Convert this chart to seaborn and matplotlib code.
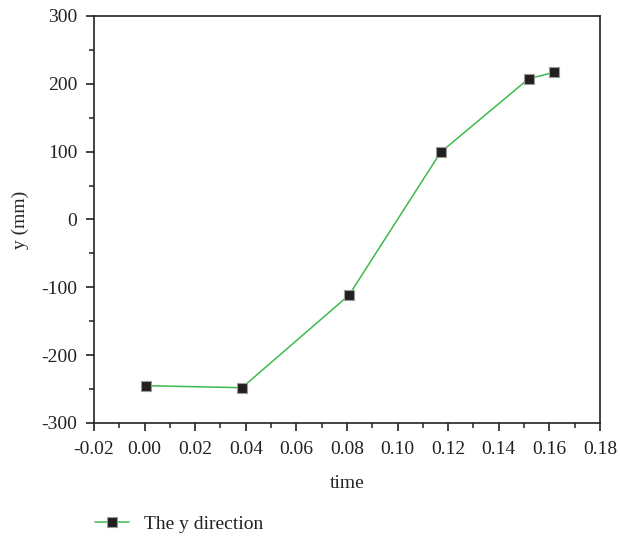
import matplotlib
matplotlib.use("Agg")
import matplotlib.pyplot as plt
import seaborn as sns
import pandas as pd
from matplotlib.ticker import MultipleLocator, FixedLocator, FixedFormatter

# Sampled trajectory in the y direction
time = [0.0004, 0.0385, 0.0808, 0.1170, 0.1518, 0.1619]
y_mm = [-245, -248, -111.5, 99, 207.5, 217]
series = ["The y direction"] * len(time)

x_ticks = [-0.02, 0.00, 0.02, 0.04, 0.06, 0.08, 0.10, 0.12, 0.14, 0.16, 0.18]
x_labels = ["-0.02", "0.00", "0.02", "0.04", "0.06", "0.08", "0.10", "0.12", "0.14", "0.16", "0.18"]
y_ticks = [-300, -200, -100, 0, 100, 200, 300]
y_labels = ["-300", "-200", "-100", "0", "100", "200", "300"]

df = pd.DataFrame({"time": time, "y": y_mm, "series": series})

sns.set_theme(style="ticks")
plt.rcParams["font.family"] = ["Liberation Serif", "DejaVu Serif"]
plt.rcParams["text.color"] = "#222222"

fig = plt.figure(figsize=(6.2, 5.4), dpi=100)
ax = fig.add_axes([0.1516, 0.2167, 0.8161, 0.7537])

sns.lineplot(data=df, x="time", y="y", hue="series", palette=["#3dba4c"],
             marker="s", markersize=7.5, markerfacecolor="#231f20",
             markeredgecolor="#9a9a9a", markeredgewidth=0.8,
             linewidth=1.1, ax=ax, legend=False, sort=False)

ax.set_xlim(-0.02, 0.18)
ax.set_ylim(-300, 300)
ax.xaxis.set_major_locator(FixedLocator(x_ticks))
ax.xaxis.set_major_formatter(FixedFormatter(x_labels))
ax.yaxis.set_major_locator(FixedLocator(y_ticks))
ax.yaxis.set_major_formatter(FixedFormatter(y_labels))
ax.xaxis.set_minor_locator(MultipleLocator(0.01))
ax.yaxis.set_minor_locator(MultipleLocator(50))

for side in ["left", "bottom", "top", "right"]:
    ax.spines[side].set_visible(True)
    ax.spines[side].set_linewidth(1.2)
    ax.spines[side].set_color("#222222")

ax.tick_params(axis="x", which="major", pad=7)
ax.tick_params(axis="y", which="major", pad=6)
ax.tick_params(axis="both", which="major", direction="out", length=6, width=1.2,
               labelsize=14, colors="#222222")
ax.tick_params(axis="both", which="minor", direction="out", length=3.5, width=1.1,
               colors="#222222")
ax.tick_params(top=False, right=False, which="both")

ax.set_xlabel("time", fontsize=14, labelpad=12)
ax.set_ylabel("y (mm)", fontsize=14, labelpad=9)

handle = plt.Line2D([], [], color="#3dba4c", linewidth=1.1, marker="s",
                    markersize=7.5, markerfacecolor="#231f20",
                    markeredgecolor="#9a9a9a", markeredgewidth=0.8)
fig.legend([handle], ["The y direction"], loc="center left",
           bbox_to_anchor=(0.125, 0.03), frameon=False, fontsize=14,
           handlelength=1.75, handletextpad=0.75)

fig.savefig("out.png", dpi=100)
